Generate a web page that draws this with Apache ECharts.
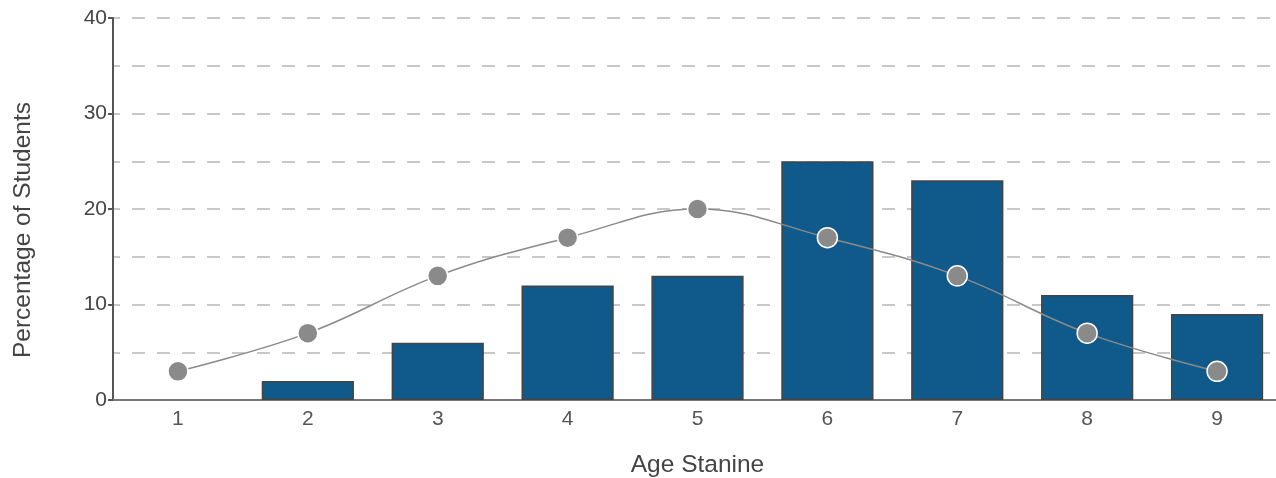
<!DOCTYPE html>
<html>
<head>
<meta charset="utf-8">
<script src="https://cdn.jsdelivr.net/npm/echarts@6/dist/echarts.min.js"></script>
<style>
html,body{margin:0;padding:0;background:#fff;}
#chart{width:1276px;height:478px;}
</style>
</head>
<body>
<div id="chart"></div>
<script>
var categories = ['1','2','3','4','5','6','7','8','9'];
var barValues = [0, 2, 6, 12, 13, 25, 23, 11, 9];
var lineValues = [3, 7, 13, 17, 20, 17, 13, 7, 3];
var yTicks = [0, 10, 20, 30, 40];

var barData = barValues.map(function (v) {
  return v === 0 ? { value: v, itemStyle: { borderWidth: 0 } } : v;
});

var chart = echarts.init(document.getElementById('chart'));
chart.setOption({
  animation: false,
  textStyle: { fontFamily: 'Liberation Sans, Arial, sans-serif' },
  grid: { left: 113, width: 1169, top: 18, bottom: 78, outerBoundsMode: 'none', containLabel: false },
  xAxis: {
    type: 'category',
    data: categories,
    name: 'Age Stanine',
    nameLocation: 'middle',
    nameGap: 53,
    nameTextStyle: { fontSize: 24.5, color: '#444' },
    axisTick: { show: false },
    axisLine: { lineStyle: { color: '#777', width: 2 } },
    axisLabel: { fontSize: 21, color: '#555', margin: 9 }
  },
  yAxis: {
    type: 'value',
    min: yTicks[0],
    max: yTicks[yTicks.length - 1],
    interval: 10,
    name: 'Percentage of Students',
    nameLocation: 'middle',
    nameGap: 77,
    nameTextStyle: { fontSize: 24.5, color: '#444', padding: [0, 42, 0, 0] },
    axisLine: { show: true, lineStyle: { color: '#555', width: 2 } },
    axisTick: { show: true, length: 5, lineStyle: { color: '#555', width: 2 } },
    axisLabel: { fontSize: 21, color: '#444', margin: 6 },
    splitLine: { show: true, lineStyle: { color: '#c8c8c8', width: 2, type: [13, 12], dashOffset: 6 } },
    minorTick: { show: false, splitNumber: 2 },
    minorSplitLine: { show: true, lineStyle: { color: '#c8c8c8', width: 2, type: [13, 12], dashOffset: 6 } }
  },
  series: [
    {
      type: 'bar',
      data: barData,
      barCategoryGap: '29%',
      itemStyle: { color: '#0f5a8a', borderColor: '#444', borderWidth: 1.5 },
      z: 2
    },
    {
      type: 'line',
      data: lineValues,
      smooth: 0.4,
      symbol: 'circle',
      symbolSize: 20,
      lineStyle: { color: '#8a8a8a', width: 1.5 },
      itemStyle: { color: '#8a8a8a', borderColor: '#fff', borderWidth: 1.5 },
      z: 3
    }
  ]
});
</script>
</body>
</html>
